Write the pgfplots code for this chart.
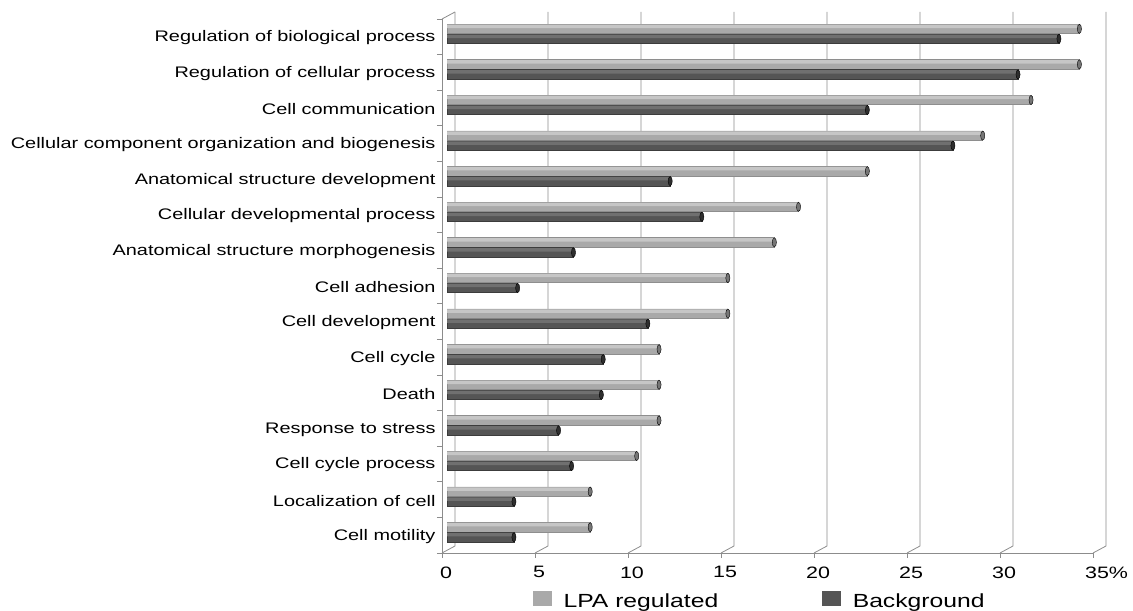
\documentclass[border=0pt]{standalone}
\usepackage{fontspec}
\setmainfont{Liberation Sans}[FakeStretch=1.3]
\usepackage{pgfplots}
\pgfplotsset{compat=1.18}
\definecolor{gridc}{HTML}{8C8C8C}
\definecolor{lpaHi}{HTML}{C6C6C6}
\definecolor{lpaM}{HTML}{A9A9A9}
\definecolor{lpaD}{HTML}{8E8E8E}
\definecolor{lpaCap}{HTML}{767676}
\definecolor{bgHi}{HTML}{707070}
\definecolor{bgM}{HTML}{555555}
\definecolor{bgD}{HTML}{3C3C3C}
\definecolor{bgCap}{HTML}{2E2E2E}
\pgfplotstableread{
y lpa bg
0 7.7 3.6
1 7.7 3.6
2 10.2 6.7
3 11.4 6.0
4 11.4 8.3
5 11.4 8.4
6 15.1 10.8
7 15.1 3.8
8 17.6 6.8
9 18.9 13.7
10 22.6 12.0
11 28.8 27.2
12 31.4 22.6
13 34.0 30.7
14 34.0 32.9
}\datatable
\begin{document}
\begin{tikzpicture}
\begin{axis}[
  name=ax, set layers, clip=false,
  scale only axis, width=651bp, height=534bp,
  xmin=0, xmax=35, ymin=-0.5, ymax=14.5,
  axis x line=bottom, axis y line=left,
  axis line style={draw=gridc, line width=0.8bp, -},
  tick style={draw=gridc, line width=0.8bp},
  tick align=outside, major tick length=5bp,
  xtick={0,5,...,35},
  xticklabels={0,5,10,15,20,25,30,35\rlap{\%}},
  /pgf/number format/assume math mode=true,
  xticklabel style={font=\fontsize{16.5bp}{19bp}\selectfont, text=black, yshift=-5bp, xshift=4bp},
  ytick={-0.5,0.5,...,14.5},
  yticklabels={},
  extra y ticks={0,1,2,3,4,5,6,7,8,9,10,11,12,13,14},
  extra y tick labels={Cell motility,Localization of cell,Cell cycle process,Response to stress,Death,Cell cycle,Cell development,Cell adhesion,Anatomical structure morphogenesis,Cellular developmental process,Anatomical structure development,Cellular component organization and biogenesis,Cell communication,Regulation of cellular process,Regulation of biological process},
  extra y tick style={major tick length=0pt, yticklabel style={font=\fontsize{15.3bp}{18bp}\selectfont, text=black, xshift=-3bp, yshift=-1bp}},
  legend columns=2,
  legend style={at={(axis description cs:0.135,-0.088)}, anchor=west, draw=none, fill=none,
    font=\fontsize{19bp}{22bp}\selectfont, text=black, nodes={inner sep=0pt},
    /tikz/every odd column/.append style={column sep=12bp},
    /tikz/every even column/.append style={column sep=104bp}},
  xbar, 
]
\begin{pgfonlayer}{axis background}
\pgfplotsinvokeforeach{0,5,10,15,20,25,30,35}{
  \draw[gridc, line width=0.8bp] (axis cs:#1,-0.5) -- ([shift={(13bp,7bp)}]axis cs:#1,-0.5) -- ([shift={(13bp,7bp)}]axis cs:#1,14.5);
}
\draw[gridc, line width=0.8bp] (axis cs:0,14.5) -- ([shift={(13bp,7bp)}]axis cs:0,14.5);
\end{pgfonlayer}
% LPA regulated
\addplot[xbar, bar width=9.5bp, bar shift=5bp, xshift=5bp, yshift=3bp,
  draw=lpaD, line width=0.5bp, fill=lpaM,
  legend image code/.code={\fill[lpaM] (0bp,-7bp) rectangle (18bp,7bp);}]
  table[x=lpa, y=y] {\datatable};
\addlegendentry{LPA regulated}
% Background
\addplot[xbar, bar width=9.5bp, bar shift=-5bp, xshift=5bp, yshift=3bp,
  draw=bgD, line width=0.5bp, fill=bgM,
  legend image code/.code={\fill[bgM] (0bp,-7bp) rectangle (18bp,7bp);}]
  table[x=bg, y=y] {\datatable};
\addlegendentry{Background}
% highlights
\addplot[xbar, bar width=3.5bp, bar shift=7.5bp, xshift=5bp, yshift=3bp,
  draw=none, fill=lpaHi, forget plot]
  table[x=lpa, y=y] {\datatable};
\addplot[xbar, bar width=3.5bp, bar shift=-2.5bp, xshift=5bp, yshift=3bp,
  draw=none, fill=bgHi, forget plot]
  table[x=bg, y=y] {\datatable};
% end caps
\addplot[only marks, mark=*, mark size=4.6bp, mark options={xscale=0.45, fill=lpaCap, draw=none},
  xshift=5bp, yshift=8bp, forget plot]
  table[x=lpa, y=y] {\datatable};
\addplot[only marks, mark=*, mark size=4.6bp, mark options={xscale=0.45, fill=bgCap, draw=none},
  xshift=5bp, yshift=-2bp, forget plot]
  table[x=bg, y=y] {\datatable};
\end{axis}
\path[use as bounding box] ([shift={(-442bp,-57bp)}]ax.south west) rectangle ([shift={(40bp,19bp)}]ax.north east);
\end{tikzpicture}
\end{document}
